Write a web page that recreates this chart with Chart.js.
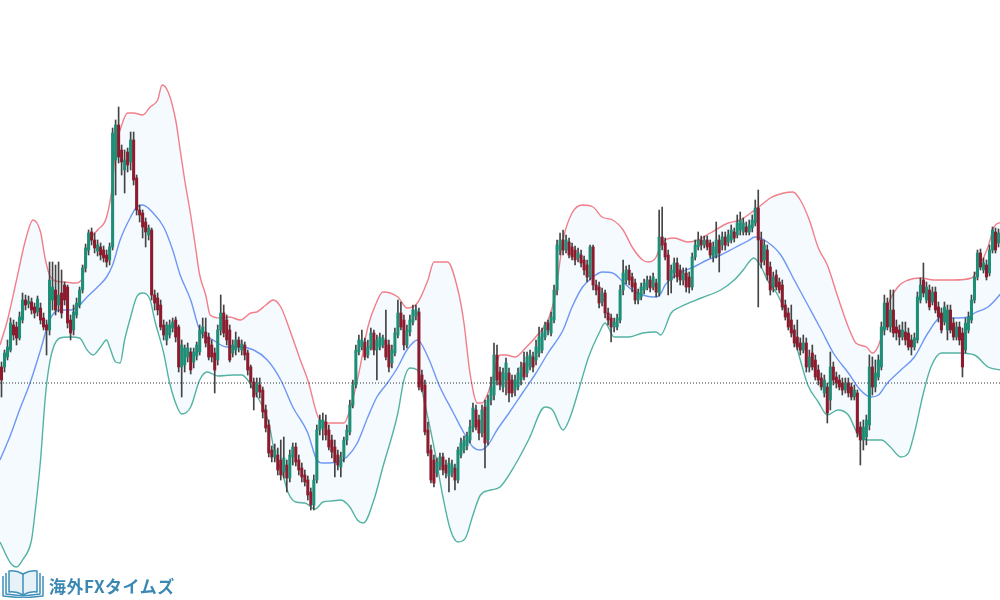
<!DOCTYPE html>
<html>
<head>
<meta charset="utf-8">
<script src="https://cdn.jsdelivr.net/npm/chart.js@4.4.1/dist/chart.umd.min.js"></script>
<style>
html,body{margin:0;padding:0;background:#fff;overflow:hidden}
#wrap{position:relative;width:1000px;height:600px}
#c{display:block;position:absolute;left:0;top:0}
#logoIcon{position:absolute;left:2px;top:568px}
#logoText{position:absolute;left:49px;top:575px;line-height:22px;font-family:"Noto Sans CJK JP","Noto Sans",sans-serif;font-weight:700;font-size:17px;letter-spacing:0.5px;color:#3b88b2;white-space:nowrap}
</style>
</head>
<body>
<div id="wrap">
<canvas id="c" width="1000" height="600"></canvas>
<svg id="logoIcon" width="42" height="30" viewBox="0 0 42 30">
 <g fill="none" stroke="#3d8fb8" stroke-width="1.5" stroke-linejoin="round">
  <path d="M1 8 L1 28 L21 30 L41 28 L41 8"/>
  <path d="M4 5 L4 26 L21 28 L38 26 L38 5"/>
  <path d="M7 3 L7 24 Q14 23 21 27 Q28 23 35 24 L35 3 Q28 2 21 6 Q14 2 7 3 Z" fill="#e6f1f8"/>
  <path d="M21 6 L21 27"/>
 </g>
</svg>
<div id="logoText">海外FXタイムズ</div>
</div>
<script>
// Candle OHLC values (price units), one entry per bar, oldest first
const opens = [
233,233,243,250,275,273,262,280,300,296,
298,293,288,292,282,275,270,300,310,295,
307,315,313,280,270,285,295,310,332,350,
368,360,349,353,350,345,340,353,440,475,
450,430,448,438,460,422,390,387,378,365,
370,305,302,295,275,260,265,272,280,273,
233,235,243,248,238,244,248,267,268,263,
255,247,240,270,287,280,270,247,250,260,
250,255,247,233,218,208,215,210,190,175,
150,143,145,140,128,135,122,143,153,140,
132,125,120,108,95,120,170,172,178,170,
160,153,145,133,143,160,168,195,215,248,
253,258,245,252,267,250,253,255,260,255,
237,247,265,287,280,255,268,278,284,288,
225,215,170,150,140,127,133,143,135,124,
127,132,120,145,150,154,160,172,190,180,
167,193,160,200,205,245,228,213,220,227,
220,210,213,220,237,227,233,243,240,247,
250,263,277,267,280,310,350,360,350,358,
353,350,342,345,340,335,323,353,315,313,
298,307,287,282,273,273,280,310,320,330,
323,317,300,303,310,313,320,313,317,307,
363,357,345,320,327,337,330,320,327,323,
313,343,353,360,355,360,357,343,345,360,
355,363,358,360,368,365,370,368,373,368,
372,377,392,360,340,350,333,313,325,318,
315,295,287,280,270,263,257,250,257,233,
247,240,230,222,207,213,200,233,223,220,
217,210,217,213,203,207,173,160,163,175,
233,213,223,233,270,297,273,290,273,270,
263,268,267,260,253,260,300,320,300,310,
298,308,293,287,278,270,290,277,263,273,
267,250,270,280,300,323,347,330,335,327,
350,368,357
];
const highs = [
238,250,260,282,280,278,288,307,305,304,
302,297,304,297,287,280,338,338,335,338,
330,318,315,285,295,302,313,335,356,370,
372,367,360,357,354,350,357,472,480,493,
455,450,452,468,468,425,395,390,382,375,
372,310,307,300,280,278,280,282,283,275,
260,255,257,252,252,258,275,282,282,267,
260,252,275,305,295,285,275,260,268,263,
260,258,250,235,222,222,222,213,195,180,
154,156,152,160,163,140,150,157,157,145,
137,130,124,112,125,175,185,187,185,175,
165,160,150,148,163,175,200,220,255,265,
270,262,260,272,270,265,267,265,290,260,
255,272,300,298,285,275,285,295,295,292,
230,220,178,155,145,142,147,147,140,142,
140,136,153,162,164,168,180,197,195,185,
195,200,205,223,257,255,233,232,242,232,
225,225,232,238,248,248,250,248,260,273,
272,278,280,288,315,360,367,370,365,362,
357,354,352,350,344,340,355,355,320,318,
312,310,292,286,282,286,315,340,334,335,
327,321,311,317,321,324,324,327,321,390,
393,362,350,335,342,342,335,332,332,328,
347,360,368,364,364,364,360,358,378,365,
368,368,370,375,372,385,388,382,378,380,
385,400,410,368,360,355,338,328,330,322,
320,300,292,295,275,280,262,265,262,250,
255,245,235,227,225,217,248,238,228,225,
222,222,222,217,215,210,178,180,185,245,
243,240,245,278,305,302,310,310,280,275,
278,278,272,265,267,308,322,337,318,315,
313,313,298,292,298,295,295,282,278,278,
272,282,288,305,328,350,351,342,340,355,
373,372,371
];
const lows = [
203,228,240,248,260,255,260,277,290,292,
286,282,284,276,270,245,265,290,285,288,
282,295,272,260,265,282,292,307,328,345,
355,347,344,340,338,333,335,350,405,437,
425,407,428,430,415,385,378,362,353,360,
300,290,285,270,260,255,262,268,258,228,
203,228,238,226,232,240,245,262,253,240,
238,207,235,265,263,255,238,243,245,248,
245,240,225,212,190,203,202,182,168,143,
138,138,125,120,122,108,118,135,134,125,
118,114,100,90,90,117,165,160,160,150,
142,123,130,123,138,155,165,192,212,245,
250,240,242,250,245,220,250,252,240,228,
232,244,262,270,250,252,264,275,280,210,
208,165,144,117,113,123,130,125,122,108,
123,110,117,142,147,150,157,168,170,160,
163,132,155,195,200,215,210,208,205,198,
203,204,210,215,220,223,230,228,235,243,
247,260,265,264,277,305,345,345,347,342,
340,335,338,333,325,318,320,310,305,292,
294,282,275,258,268,270,277,305,316,315,
308,296,296,300,306,310,308,310,303,304,
350,340,305,307,322,318,315,315,308,307,
310,340,350,350,352,350,342,338,342,328,
350,350,354,357,358,362,365,365,365,365,
368,374,293,332,335,320,305,308,310,307,
290,280,270,263,253,250,245,247,228,228,
230,220,215,210,203,177,190,215,212,210,
205,207,203,200,200,163,135,150,155,170,
205,208,220,230,265,270,268,263,260,255,
260,255,250,245,250,257,297,303,297,290,
295,287,278,267,275,260,267,260,260,255,
223,247,267,277,297,320,330,327,320,324,
347,347,353
];
const closes = [
220,247,253,277,265,262,283,300,295,299,
290,287,301,280,273,270,320,313,290,305,
287,300,277,267,288,297,310,332,352,367,
360,352,355,345,342,338,353,467,475,443,
438,440,435,460,420,390,385,373,368,372,
305,297,290,273,265,275,275,278,263,233,
255,252,252,230,248,255,270,273,257,243,
243,230,270,287,267,260,240,255,260,253,
256,245,230,218,203,217,208,188,172,147,
143,150,130,125,142,122,145,153,138,130,
123,118,105,95,120,170,180,180,165,153,
148,138,135,143,160,170,195,215,250,260,
260,243,253,267,250,260,263,262,243,233,
250,267,287,273,255,270,280,290,290,213,
210,168,147,120,117,138,143,130,127,137,
135,120,150,157,160,164,173,192,173,167,
190,157,200,213,245,220,215,227,237,207,
207,220,227,233,223,243,245,233,253,263,
267,275,270,283,310,355,360,350,360,345,
343,340,347,337,330,323,353,315,310,297,
307,287,280,273,278,282,310,327,330,320,
313,300,307,313,317,320,312,323,308,363,
355,343,320,330,337,323,320,327,313,313,
343,355,360,355,360,353,345,353,360,347,
363,355,365,370,362,377,380,377,368,375,
380,392,360,338,355,325,310,323,313,310,
293,283,273,267,257,253,250,257,233,243,
233,223,220,213,220,187,233,220,217,213,
210,217,207,203,210,167,160,173,180,233,
213,227,240,273,297,273,290,267,267,263,
270,260,253,253,262,303,315,307,313,293,
308,290,283,270,293,290,270,263,273,260,
233,277,283,300,323,347,333,337,323,350,
370,350,367
];

// Bollinger band readings: position (bar index) and level
const upperX = [-0.5,2,5,8,10.5,13,14.5,16,18,21,24.5,27,28,29.5,32,35,37,38,39.5,42,44,47,49.5,52,53.5,55.5,58,59.5,61,63,64.5,66,68,69.5,73,76,79.5,83,85,88,90.5,93,96,99.5,102,106,109.5,114,116,119,122,124.5,127,132,135,138.5,142,144,148.5,152,154,156,158.5,160,162,164,166,168,171,174.5,179,182,184.5,187,190,193.5,197,200,203.5,207,210,213.5,215.5,218,219.5,224,228.5,232,236,242,246,249.5,253,256,260.5,263.5,266,269,272,275,278.5,282,284.5,288,290,293,295,298.5,302,306,310.5,317,323,325,328.5,330.5,333];
const upperY = [255,280,320,360,380,368,342,325,319,318,317,322,343,360,370,383,417,453,470,487,487,485,493,500,515,508,480,450,420,385,355,325,305,285,282,283,280,287,288,295,300,293,270,240,220,180,177,177,190,227,273,295,308,303,292,297,320,338,338,310,277,227,197,197,207,227,245,245,243,252,267,280,307,360,387,395,393,383,380,370,353,340,338,343,355,362,358,360,367,377,380,387,395,402,407,408,400,380,352,335,303,273,257,253,247,263,293,313,320,322,320,320,322,330,353,373,378];
const midX = [-0.5,3,6,9.5,13,16,19.5,23,26,28.5,32,35,37,39.5,43,45,47,50.5,54,57,59.5,63,66,70.5,75,79.5,84,88.5,93,97,102,105,107,112,115,118.5,122,125,128.5,132,135,138.5,142,146,150.5,154,157,159.5,162,165,169,173.5,178,182,187,190,193.5,197,200,203.5,207,210,213.5,217,219,221,226,230.5,235,239.5,244,248.5,251,255,259.5,264,268.5,273,277,282,286,289.5,292,295,299.5,304,308.5,313,317,322,324,328.5,333];
const midY = [140,165,190,217,250,280,290,290,295,303,313,323,335,360,383,393,395,387,373,350,325,300,270,260,253,253,250,240,220,193,167,140,137,138,143,157,183,203,217,233,250,260,243,213,187,167,153,150,155,170,187,207,227,247,270,293,313,323,328,327,318,310,305,303,304,315,327,333,340,345,352,359,363,358,345,320,295,270,247,227,210,203,205,217,230,243,267,283,282,283,287,293,307];
const lowerX = [-0.5,3,5,7,10,11,13,14.5,15.5,17,19.5,23,26,28.5,30.5,33,35,36,38,39.5,41,43,45,47,49.5,51,54,56,58.5,60,63,66,68.5,72,77,80,82,84.5,87,89,91,93.5,95.5,98,101,104.5,107,110,113,116,118.5,120.5,124,127,132,134,136,138.5,140.5,144,147,149.5,152,154.5,157,159.5,163,166,171,175.5,181,183.5,187,189,192.5,195.5,199,201,204,209,213.5,218,219.5,223,226,233,239.5,244,247,249.5,250.5,253,255,258.5,263,266,268.5,272,275,278.5,282,285,288.5,293,296,299.5,302,304,307,309.5,313,318.5,324,328.5,333];
const lowerY = [58,37,33,40,60,83,140,200,227,250,262,263,262,250,245,253,260,253,238,237,260,283,303,307,300,280,247,217,193,186,193,220,228,224,225,225,220,207,193,177,147,127,107,98,97,91,98,99,100,93,80,77,100,133,187,220,232,230,203,153,103,70,58,62,85,105,110,113,135,160,193,190,170,180,213,243,267,277,263,263,267,268,265,287,293,302,310,320,330,340,342,333,320,305,272,240,215,198,185,190,185,167,160,160,153,143,147,167,207,233,247,247,245,233,230];

// Horizontal reference level (dotted line)
const refLevel = 217;

const UP = '#1f8e77';
const DOWN = '#8c1b2d';
const WICK = '#444444';

const N = opens.length;
const idx = opens.map((_, i) => i);
const wickData = idx.map(i => ({x: i, y: [lows[i], highs[i]]}));
const bodyData = idx.map(i => ({x: i, y: [opens[i], closes[i]]}));
const bodyColors = idx.map(i => closes[i] >= opens[i] ? UP : DOWN);
const pts = (xs, ys) => xs.map((x, k) => ({x: x, y: ys[k]}));

const lineBase = {type: 'line', pointRadius: 0, pointHoverRadius: 0, borderWidth: 1.4, cubicInterpolationMode: 'monotone'};

new Chart(document.getElementById('c').getContext('2d'), {
  type: 'bar',
  data: {
    datasets: [
      Object.assign({}, lineBase, {label: 'Upper', data: pts(upperX, upperY), borderColor: 'rgba(238,78,92,0.72)', fill: 2, backgroundColor: 'rgba(33,150,243,0.05)', order: 4}),
      Object.assign({}, lineBase, {label: 'Middle', data: pts(midX, midY), borderColor: 'rgba(60,110,240,0.72)', fill: false, order: 4}),
      Object.assign({}, lineBase, {label: 'Lower', data: pts(lowerX, lowerY), borderColor: 'rgba(20,150,125,0.72)', fill: false, order: 4}),
      {type: 'line', label: 'Level', data: [{x: -0.5, y: refLevel}, {x: N - 0.5, y: refLevel}], borderColor: '#333', borderWidth: 1, borderDash: [1, 2], pointRadius: 0, fill: false, order: 3},
      {type: 'bar', label: 'Wicks', data: wickData, backgroundColor: WICK, barThickness: 1, grouped: false, order: 2},
      {type: 'bar', label: 'Bodies', data: bodyData, backgroundColor: bodyColors, barThickness: 2.4, minBarLength: 1, grouped: false, order: 1}
    ]
  },
  options: {
    responsive: false,
    animation: false,
    events: [],
    layout: {padding: 0},
    plugins: {legend: {display: false}, tooltip: {enabled: false}, title: {display: false}},
    scales: {
      x: {type: 'linear', min: -0.5, max: N - 0.5, display: false, offset: false, grid: {display: false}},
      y: {type: 'linear', min: 0, max: 600, display: false, grid: {display: false}}
    }
  }
});
</script>
</body>
</html>
